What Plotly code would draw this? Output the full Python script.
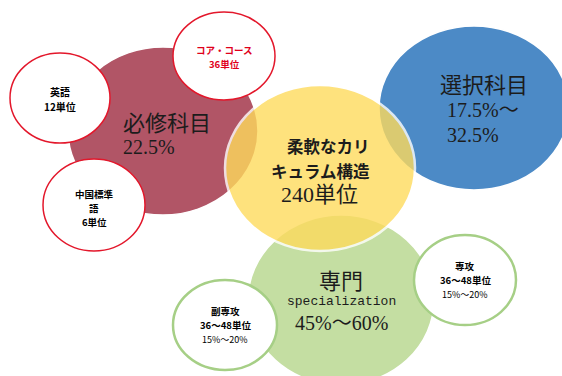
import plotly.graph_objects as go

# Main curriculum blocks
block_titles = ["必修科目", "選択科目", "専門"]
block_values = [["22.5%"], ["17.5%～", "32.5%"], ["45%～60%"]]
core_lines = ["柔軟なカリ", "キュラム構造"]
core_total = "240単位"
spec_word = "specialization"

# Sub-items shown in the small white bubbles
sub_lines = [
    ["英語", "12単位"],
    ["コア・コース", "36単位"],
    ["中国標準", "語", "6単位"],
    ["副専攻", "36～48単位", "15%～20%"],
    ["専攻", "36～48単位", "15%～20%"],
]

W, H = 562, 376
SERIF = "Liberation Serif, 'Noto Sans CJK JP', serif"
GOTHIC = "'Noto Sans CJK JP', 'Noto Sans', sans-serif"
MONO = "Liberation Mono, monospace"
INK = "#1c1c1c"

fig = go.Figure()
fig.add_trace(go.Scatter(x=[0, W], y=[0, H], mode="markers",
                         marker=dict(opacity=0), hoverinfo="skip", showlegend=False))


def ellipse(cx, cy, rx, ry, fill, line, lw, opacity=1.0):
    fig.add_shape(type="circle", xref="x", yref="y",
                  x0=cx - rx, x1=cx + rx, y0=cy - ry, y1=cy + ry,
                  fillcolor=fill, line=dict(color=line, width=lw),
                  opacity=opacity, layer="above")


# big bubbles (yellow core drawn last, semi-transparent)
ellipse(163, 131, 95, 84, "#B15566", "white", 1.5)
ellipse(474, 108, 95, 82, "#4C8AC6", "white", 1.5)
ellipse(341, 300, 93, 85, "#C4DEA2", "white", 1.5)
ellipse(320, 168, 95, 83, "#FEDB5D", "white", 2.5, opacity=0.8)

# small bubbles
RED_LINE = "#E3172B"
GREEN_LINE = "#A6CF86"
small = [
    (60, 98, 50, 45, RED_LINE),
    (224, 56, 51, 44, RED_LINE),
    (94, 205, 51, 46, RED_LINE),
    (225, 325, 52, 45, GREEN_LINE),
    (465, 280, 51, 45, GREEN_LINE),
]
for cx, cy, rx, ry, lc in small:
    ellipse(cx, cy, rx, ry, "white", lc, 1.5 if lc == RED_LINE else 2.5)


def label(text, x, y, size, family=SERIF, color=INK, xanchor="left", weight="normal"):
    fig.add_annotation(x=x, y=y, xref="x", yref="y", text=text, showarrow=False,
                       xanchor=xanchor, yanchor="middle", borderpad=0,
                       font=dict(family=family, size=size, color=color, weight=weight))


# 必修科目
label(block_titles[0], 122, 123, 22)
label(block_values[0][0], 122, 147, 20)
# 選択科目
label(block_titles[1], 439, 85, 22)
label(block_values[1][0], 446, 110, 20)
label(block_values[1][1], 446, 135, 20)
# 専門
label(block_titles[2], 341, 281, 22, xanchor="center")
label(spec_word, 341, 301, 13, family=MONO, xanchor="center")
label(block_values[2][0], 341, 323, 20, xanchor="center")
# core
label(core_lines[0], 328, 146, 16.5, family=GOTHIC, xanchor="center", weight="bold")
label(core_lines[1], 320, 170.5, 16.5, family=GOTHIC, xanchor="center", weight="bold")
label(core_total, 319, 194, 22, xanchor="center")

# small bubble texts: centre x, first line y, line step, font size
sub_layout = [
    (60, 91, 15, 10),
    (224, 50, 14, 9.5),
    (94, 194, 14, 9.5),
    (225, 311, 14, 9.5),
    (465, 266, 14, 9.5),
]
for i, (lines, (cx, y0, step, size)) in enumerate(zip(sub_lines, sub_layout)):
    color = "#E0001B" if i == 1 else "#000000"
    for j, txt in enumerate(lines):
        is_pct = i >= 3 and j == 2
        label(txt, cx, y0 + j * step, 9 if is_pct else size, family=GOTHIC,
              color=color, xanchor="center", weight="normal" if is_pct else "bold")

fig.update_layout(
    width=W, height=H, margin=dict(l=0, r=0, t=0, b=0),
    paper_bgcolor="white", plot_bgcolor="white", showlegend=False,
    xaxis=dict(range=[0, W], visible=False, fixedrange=True),
    yaxis=dict(range=[H, 0], visible=False, fixedrange=True),
)
fig.write_html("out.html", config={"displayModeBar": False})
